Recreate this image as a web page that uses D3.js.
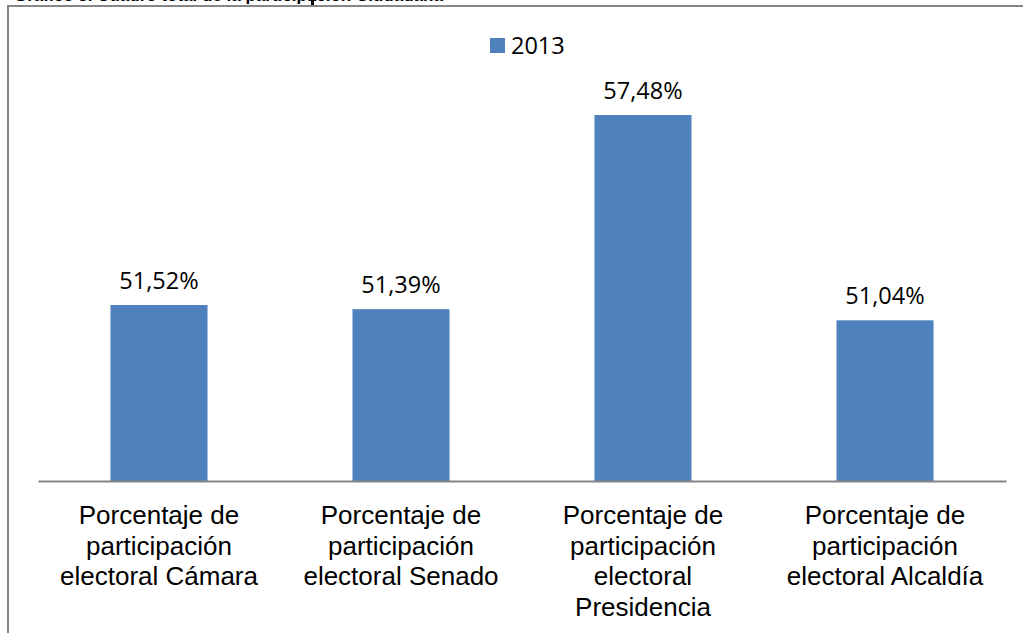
<!DOCTYPE html>
<html><head><meta charset="utf-8">
<script src="https://cdn.jsdelivr.net/npm/d3@7"></script>
<style>html,body{margin:0;padding:0;background:#fff;overflow:hidden}</style>
</head><body>
<svg id="c" width="1023" height="633"></svg>
<script>
const categories = [
  ["Porcentaje de", "participación", "electoral Cámara"],
  ["Porcentaje de", "participación", "electoral Senado"],
  ["Porcentaje de", "participación", "electoral", "Presidencia"],
  ["Porcentaje de", "participación", "electoral Alcaldía"]
];
const values = [51.52, 51.39, 57.48, 51.04];
const valueLabels = ["51,52%", "51,39%", "57,48%", "51,04%"];
const seriesName = "2013";
const yDomain = [46, 58];
const titleText = "Gráfico 3. Cuadro total de la participación Ciudadana";

const svg = d3.select("#c");
const W = 1023, H = 633;
const left = 38, right = 1006, base = 481;
const pxPerUnit = 31.88;
const color = "#4F81BD";

// title, clipped by the top edge as in the reference
svg.append("text").attr("x", 14).attr("y", 1)
  .attr("font-family", "Liberation Sans, Arial, sans-serif")
  .attr("font-weight", "bold").attr("font-size", 17).attr("fill", "#000")
  .text(titleText);
svg.append("rect").attr("x", 311).attr("y", 0).attr("width", 3).attr("height", 6).attr("fill", "#000");

// frame
svg.append("path").attr("d", `M8,${H} L8,6 L${W},6`).attr("fill", "none")
  .attr("stroke", "#868686").attr("stroke-width", 2);

const x = d3.scaleBand().domain(d3.range(values.length)).range([left, right])
  .paddingInner(0.599).paddingOuter(0.2995);
const y = d3.scaleLinear().domain(yDomain).range([base, base - (yDomain[1] - yDomain[0]) * pxPerUnit]);

svg.selectAll("rect.bar").data(values).join("rect").attr("class", "bar")
  .attr("x", (d, i) => x(i)).attr("width", x.bandwidth())
  .attr("y", d => y(d)).attr("height", d => base - y(d))
  .attr("fill", color);

// axis line
const axis = d3.axisBottom(x).tickSize(0).tickFormat("");
const ag = svg.append("g").attr("transform", `translate(0,${base})`).call(axis);
ag.select(".domain").attr("stroke", "#868686").attr("stroke-width", 2);

// value labels
svg.selectAll("text.val").data(values).join("text").attr("class", "val")
  .attr("x", (d, i) => x(i) + x.bandwidth() / 2)
  .attr("y", d => y(d) - 16)
  .attr("text-anchor", "middle")
  .attr("font-family", "Open Sans, sans-serif").attr("font-size", 23.5).attr("fill", "#000")
  .text((d, i) => valueLabels[i]);

// category labels
const cg = svg.selectAll("text.cat").data(categories).join("text").attr("class", "cat")
  .attr("text-anchor", "middle")
  .attr("font-family", "Liberation Sans, Arial, sans-serif").attr("font-size", 26).attr("fill", "#000");
cg.each(function(lines, i) {
  const t = d3.select(this);
  lines.forEach((ln, j) => {
    t.append("tspan").attr("x", x(i) + x.bandwidth() / 2).attr("y", 524 + j * 30.7).text(ln);
  });
});

// legend
svg.append("rect").attr("x", 490).attr("y", 38).attr("width", 15).attr("height", 15).attr("fill", color);
svg.append("text").attr("x", 511).attr("y", 54)
  .attr("font-family", "Open Sans, sans-serif").attr("font-size", 23.5).attr("fill", "#000")
  .text(seriesName);
</script>
</body></html>
